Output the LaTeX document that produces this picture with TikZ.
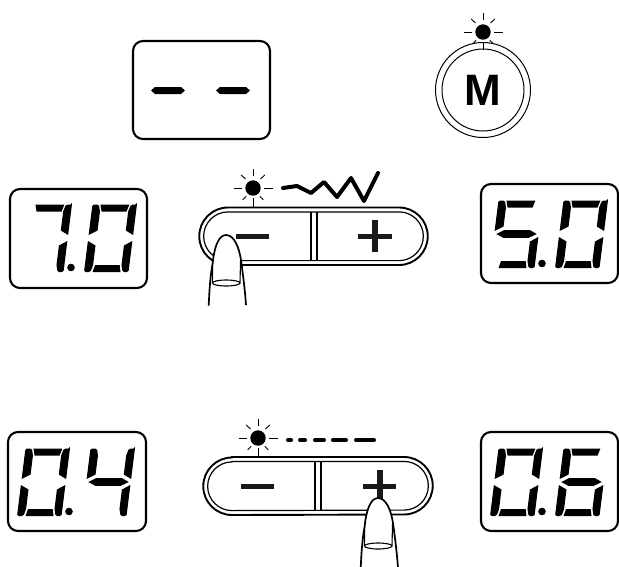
\documentclass[tikz,border=0pt]{standalone}
\usepackage{fontspec}
\setmainfont{Liberation Sans}
\tikzset{
  dispbox/.style={draw=black,line width=2.1pt,rounded corners=10pt},
  outerbtn/.style={draw=black,line width=1.9pt,fill=white},
  innerbtn/.style={draw=black,line width=1.2pt},
  thinline/.style={draw=black,line width=1.2pt},
  ray/.style={draw=black,line width=0.9pt},
  stitch/.style={draw=black,line width=4pt,line cap=round,line join=round},
  fingerline/.style={draw=black,line width=1.7pt},
  signbar/.style={fill=black!90}
}
\newcommand{\segA}{\fill (8,67.5)--(37,67.5)--(35,60.5)--(10,60.5)--cycle;}
\newcommand{\segB}{\fill (44.5,37)--(44.5,67.5)[rounded corners=1.5pt]--(44.5,67.5)--(38.5,67.5)[sharp corners]--(36.6,60.5)--(36.6,41.5)--cycle;}
\newcommand{\segC}{\fill (44.5,31)--(44.5,1)[rounded corners=1.5pt]--(44.5,0)--(38.5,0)[sharp corners]--(36.6,7)--(36.6,26.5)--cycle;}
\newcommand{\segD}{\fill (8.5,0)--(36.5,0)--(34.8,7)--(10.2,7)--cycle;}
\newcommand{\segE}{\fill (0,31)--(0,2)[rounded corners=1.5pt]--(0,0)--(6.5,0)[sharp corners]--(8.2,7)--(8.2,26.5)--cycle;}
\newcommand{\segF}{\fill (0,37)--(0,65)[rounded corners=1.5pt]--(0,67.5)--(6.5,67.5)[sharp corners]--(8.4,60.5)--(8.4,41.5)--cycle;}
\newcommand{\segG}{\fill (2,34)--(9.5,38)--(35,38)--(42.5,34)--(35,30.2)--(9.5,30.2)--cycle;}
\newcommand{\sdig}[3]{%
  \begin{scope}[shift={(#1,#2)},x=1pt,y=1pt,xslant=0.125]
    \foreach \s in {#3}{\csname seg\s\endcsname}
  \end{scope}}
\newcommand{\sdisp}[4]{% X1, Y, segments 1, segments 2
  \sdig{#1}{#2}{#3}
  \sdig{#1+65}{#2}{#4}
  \fill ({#1+52},{#2-4.5}) circle (3.8);}
\newcommand{\lamp}[3]{% x,y,stem end
  \fill[black] (#1,#2) circle (7.7);
  \draw[ray] (#1,#2-12) -- +(0,-7);
  \draw[ray] (#1-11,#2) -- +(-8.5,0);
  \draw[ray] (#1+11,#2) -- +(8.5,0);
  \draw[ray] (#1-7.5,#2-9) -- +(-4.3,-4);
  \draw[ray] (#1+7.5,#2-9) -- +(4.3,-4);
  \draw[ray] (#1-6.7,#2+8.3) -- +(-3.6,3.6);
  \draw[ray] (#1+6.7,#2+8.3) -- +(3.6,3.6);
  \draw[ray] (#1,#2+10) -- (#1,#3);}
\newcommand{\btn}[6]{% left,right,top,bottom,divider x, centre y
  \draw[outerbtn] (#1+29,#3) -- (#2-29,#3) arc[start angle=-90,end angle=90,radius=28.75] -- (#1+29,#4) arc[start angle=90,end angle=270,radius=28.75] -- cycle;
  \draw[innerbtn] (#1+29,#3+4.4) -- (#2-29,#3+4.4) arc[start angle=-90,end angle=90,radius=24.35] -- (#1+29,#4-4.4) arc[start angle=90,end angle=270,radius=24.35] -- cycle;
  \draw[thinline] (#5,#3+4.4) -- (#5,#4-4.4);
  \draw[thinline] (#5+6,#3+4.4) -- (#5+6,#4-4.4);}
\newcommand{\finger}[2]{%
  \begin{scope}[shift={(#1,#2)}]
    \draw[fingerline,fill=white] (-17.3,70.7) .. controls (-16.5,52) and (-15.5,40) .. (-13.3,28)
      .. controls (-12,14) and (-8,0) .. (0,0)
      .. controls (8,0) and (13,12) .. (15,25)
      .. controls (17,40) and (19,55) .. (20,70);
    \draw[draw=black,line width=1.1pt] (-13.6,47.5) -- (-13.3,28);
    \draw[draw=black,line width=1.1pt] (14,47.5) -- (14.6,24);
    \draw[draw=black,line width=1.1pt] (0.2,48) ellipse[x radius=13.8,y radius=3];
  \end{scope}}
\begin{document}
\begin{tikzpicture}[x=1pt,y=-1pt]
\useasboundingbox (0,0) rectangle (619,566);
% top row
\draw[dispbox] (133,41) rectangle (270,139);
\fill (151,90.5)--(155,87)--(181,87)--(185,90.5)--(181,94)--(155,94)--cycle;
\fill (216,90.5)--(220,87)--(246,87)--(250,90.5)--(246,94)--(220,94)--cycle;
\draw[draw=black,line width=1pt] (483,90) circle (47.5);
\draw[draw=black,line width=1pt] (483,90) circle (41);
\lamp{483}{32}{50}
\node[inner sep=0pt] (m) at (483,90) {\fontsize{44}{44}\selectfont\bfseries M};
% displays
\draw[dispbox] (10,189) rectangle (147,288);
\sdisp{19}{272}{A,B,C}{A,B,C,D,E,F}
\draw[dispbox] (481,184) rectangle (618,283);
\sdisp{490}{268}{A,F,G,C,D}{A,B,C,D,E,F}
\draw[dispbox] (8,432) rectangle (146,531);
\sdisp{17}{516}{A,B,C,D,E,F}{F,G,B,C}
\draw[dispbox] (481,432) rectangle (618,531);
\sdisp{490}{516}{A,B,C,D,E,F}{A,F,G,E,C,D}
% upper button
\btn{199}{428}{207.5}{265}{311}{236}
\fill[signbar] (236,233.8) rectangle (269,239);
\fill[signbar] (358,233.8) rectangle (392,239);
\fill[signbar] (372,220) rectangle (378,252);
\lamp{253}{188}{207}
\draw[stitch] (283,188) -- (297,186) -- (311,193) -- (324,182) -- (337,197) -- (351,178) -- (364,201) -- (378,173);
\finger{226}{235}
% lower button
\btn{203}{433}{457}{515}{315}{486}
\fill[signbar] (241,483.5) rectangle (274,488.7);
\fill[signbar] (363,483.5) rectangle (396,488.7);
\fill[signbar] (377,470) rectangle (383,502);
\lamp{258}{438}{457}
\draw[stitch] (288,440.3) -- (291,440.3);
\draw[stitch] (300,440.3) -- (305,440.3);
\draw[stitch] (315,440.3) -- (324,440.3);
\draw[stitch] (333,440.3) -- (346,440.3);
\draw[stitch] (356,440.3) -- (374,440.3);
\finger{378}{498}
\end{tikzpicture}
\end{document}
